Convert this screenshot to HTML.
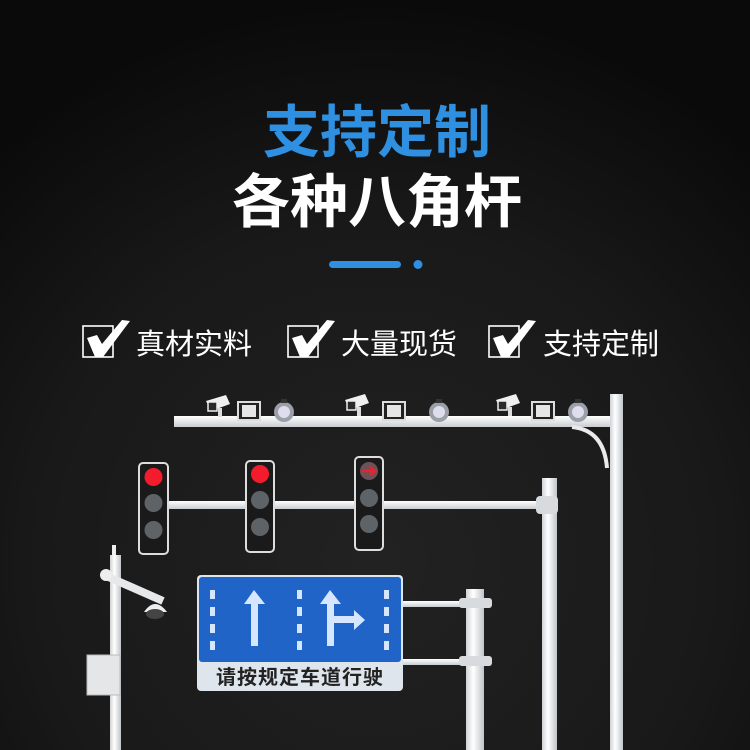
<!DOCTYPE html>
<html><head><meta charset="utf-8"><style>
html,body{margin:0;padding:0;background:#111;}
svg{display:block}
text{font-family:"Liberation Sans","Noto Sans CJK SC",sans-serif;}
</style></head><body>
<svg width="750" height="750" viewBox="0 0 750 750" xmlns="http://www.w3.org/2000/svg">
<defs>
<radialGradient id="bg" cx="50%" cy="75%" r="75%">
<stop offset="0" stop-color="#222222"/><stop offset="0.6" stop-color="#191919"/><stop offset="1" stop-color="#0a0a0a"/>
</radialGradient>
<linearGradient id="pole" x1="0" x2="1"><stop offset="0" stop-color="#cfd3d6"/><stop offset="0.4" stop-color="#ffffff"/><stop offset="1" stop-color="#bfc4c8"/></linearGradient>
<linearGradient id="hbar" x1="0" y1="0" x2="0" y2="1"><stop offset="0" stop-color="#ffffff"/><stop offset="1" stop-color="#c9cdd0"/></linearGradient>
<g id="cam"><path d="M0 6 L20 0 L24 9 L5 16 Z" fill="#f0f0f0"/><rect x="2" y="7" width="9" height="9" fill="#2a2a2a" stroke="#eee" stroke-width="1.5"/><rect x="12" y="13" width="4" height="9" fill="#ddd"/></g>
</defs>
<rect width="750" height="750" fill="url(#bg)"/>

<text x="377" y="152" text-anchor="middle" font-size="57" font-weight="bold" fill="#2f8fe0">支持定制</text>
<text x="377" y="222" text-anchor="middle" font-size="58" font-weight="bold" fill="#ffffff">各种八角杆</text>
<rect x="329" y="261" width="72" height="7" rx="3.5" fill="#2f8fe0"/>
<circle cx="418" cy="264.5" r="4.5" fill="#2f8fe0"/>

<g fill="none" stroke="#fff">
<rect x="83" y="326" width="30" height="31" stroke-width="1.6"/>
<rect x="288" y="326" width="30" height="31" stroke-width="1.6"/>
<rect x="489" y="326" width="30" height="31" stroke-width="1.6"/>
</g>
<g fill="#fff">
<path d="M87 338 L97 335 L102 344 L122 320 L130 321 L103 357 L95 357 Z"/>
<path d="M292 338 L302 335 L307 344 L327 320 L335 321 L308 357 L300 357 Z"/>
<path d="M493 338 L503 335 L508 344 L528 320 L536 321 L509 357 L501 357 Z"/>
</g>
<g font-size="29" fill="#fff">
<text x="136" y="354">真材实料</text>
<text x="341" y="354">大量现货</text>
<text x="543" y="354">支持定制</text>
</g>

<rect x="174" y="416" width="440" height="11" fill="url(#hbar)"/>
<rect x="610" y="394" width="13" height="356" fill="url(#pole)"/>
<path d="M572 427 Q604 430 607 468" stroke="#e8eaec" stroke-width="4" fill="none"/>
<g>
<use href="#cam" x="206" y="395"/>
<rect x="238" y="402" width="22" height="18" fill="#222" stroke="#ddd" stroke-width="2"/><rect x="242" y="405" width="14" height="12" fill="#e6e6e6"/>
<circle cx="284" cy="412" r="10" fill="#9aa0a8"/><circle cx="284" cy="412" r="6" fill="#dde"/><rect x="281" y="399" width="6" height="4" fill="#333"/>

<use href="#cam" x="345" y="394"/>
<rect x="383" y="402" width="22" height="18" fill="#222" stroke="#ddd" stroke-width="2"/><rect x="387" y="405" width="14" height="12" fill="#e6e6e6"/>
<circle cx="439" cy="412" r="10" fill="#9aa0a8"/><circle cx="439" cy="412" r="6" fill="#dde"/><rect x="436" y="399" width="6" height="4" fill="#333"/>

<use href="#cam" x="496" y="394"/>
<rect x="532" y="402" width="22" height="18" fill="#222" stroke="#ddd" stroke-width="2"/><rect x="536" y="405" width="14" height="12" fill="#e6e6e6"/>
<circle cx="578" cy="412" r="10" fill="#9aa0a8"/><circle cx="578" cy="412" r="6" fill="#dde"/><rect x="575" y="399" width="6" height="4" fill="#333"/>
</g>

<rect x="165" y="501" width="380" height="8" fill="url(#hbar)"/>
<rect x="542" y="478" width="15" height="272" fill="url(#pole)"/>
<rect x="536" y="496" width="22" height="18" rx="4" fill="#d8dbde"/>
<g>
<rect x="139" y="463" width="29" height="91" rx="4" fill="#1a1a1a" stroke="#ddd" stroke-width="2"/>
<circle cx="153.5" cy="477" r="9" fill="#f21c2c"/><circle cx="153.5" cy="503" r="9" fill="#5e6368"/><circle cx="153.5" cy="530" r="9" fill="#5e6368"/>
<rect x="246" y="461" width="28" height="91" rx="4" fill="#1a1a1a" stroke="#ddd" stroke-width="2"/>
<circle cx="260" cy="474" r="9" fill="#f21c2c"/><circle cx="260" cy="500" r="9" fill="#5e6368"/><circle cx="260" cy="527" r="9" fill="#5e6368"/>
<rect x="355" y="457" width="28" height="93" rx="4" fill="#1a1a1a" stroke="#ddd" stroke-width="2"/>
<circle cx="369" cy="471" r="9" fill="#6a5258"/><path d="M362 471 H374 M370 467 L375 471 L370 475" stroke="#e8232f" stroke-width="2.5" fill="none"/>
<circle cx="369" cy="498" r="9" fill="#5e6368"/><circle cx="369" cy="524" r="9" fill="#5e6368"/>
</g>

<rect x="112" y="545" width="4" height="12" fill="#eee"/>
<rect x="110" y="555" width="11" height="195" fill="url(#pole)"/>
<path d="M104 575 L163 601" stroke="#e6e8ea" stroke-width="8" fill="none"/>
<circle cx="106" cy="575" r="6" fill="#eee"/>
<path d="M144 612 Q155 596 167 612 Z" fill="#eee"/><ellipse cx="155" cy="614" rx="9" ry="5" fill="#444"/>
<rect x="87" y="655" width="33" height="40" fill="#e4e6e8" stroke="#bbb"/>

<rect x="403" y="601" width="80" height="6" fill="url(#hbar)"/>
<rect x="403" y="659" width="80" height="6" fill="url(#hbar)"/>
<rect x="466" y="589" width="18" height="161" fill="url(#pole)"/>
<rect x="459" y="598" width="33" height="10" rx="3" fill="#d8dbde"/>
<rect x="459" y="656" width="33" height="10" rx="3" fill="#d8dbde"/>

<rect x="197" y="575" width="206" height="116" rx="4" fill="#dfe5ec"/>
<rect x="199" y="577" width="202" height="85" rx="3" fill="#1f64c6"/>
<g fill="#d6e6ff">
<rect x="210" y="590" width="5" height="9"/><rect x="210" y="607" width="5" height="9"/><rect x="210" y="624" width="5" height="9"/><rect x="210" y="641" width="5" height="9"/>
<rect x="297" y="590" width="5" height="9"/><rect x="297" y="607" width="5" height="9"/><rect x="297" y="624" width="5" height="9"/><rect x="297" y="641" width="5" height="9"/>
<rect x="384" y="590" width="5" height="9"/><rect x="384" y="607" width="5" height="9"/><rect x="384" y="624" width="5" height="9"/><rect x="384" y="641" width="5" height="9"/>
<path d="M254 590 L265 604 L258 604 L258 646 L251 646 L251 604 L244 604 Z"/>
<path d="M330 590 L341 604 L334 604 L334 616 L354 616 L354 610 L365 620 L354 630 L354 623 L334 623 L334 646 L327 646 L327 604 L320 604 Z"/>
</g>
<text x="300" y="684" text-anchor="middle" font-size="20" font-weight="bold" fill="#222" letter-spacing="1">请按规定车道行驶</text>
</svg>
</body></html>
